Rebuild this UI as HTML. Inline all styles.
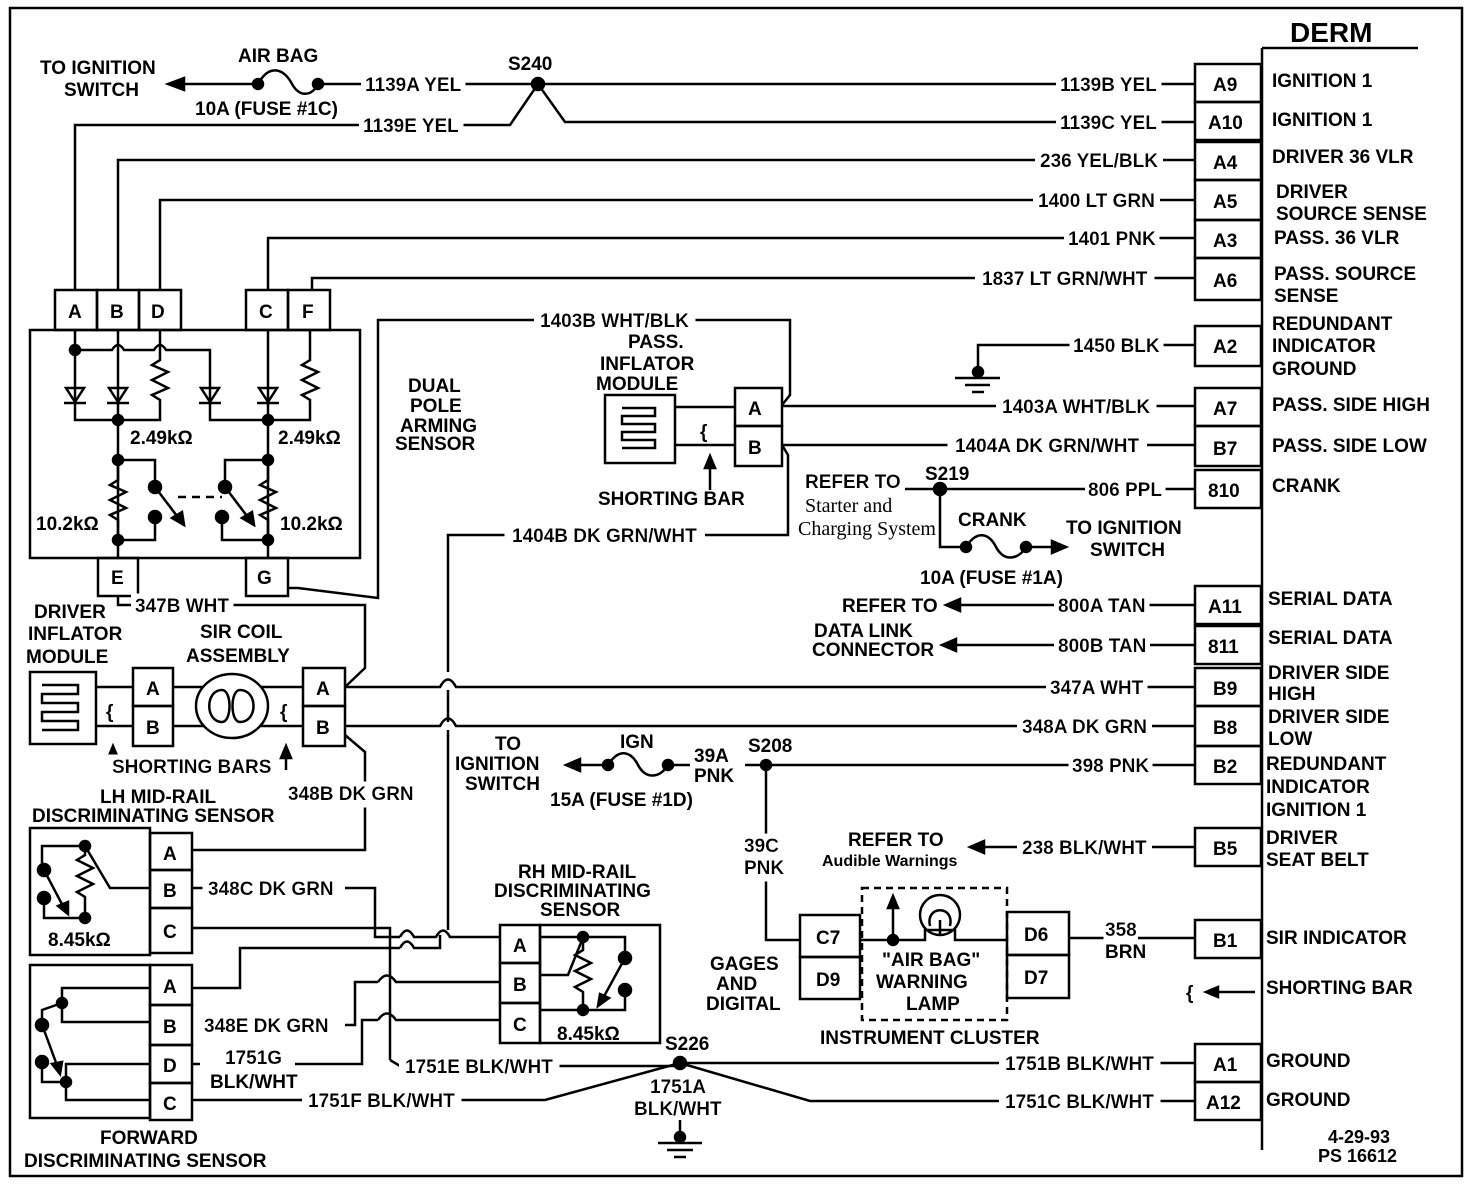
<!DOCTYPE html>
<html><head><meta charset="utf-8"><style>
html,body{margin:0;padding:0;background:#fff}
svg{display:block}
text{font-family:"Liberation Sans",sans-serif;font-weight:bold;font-size:19px;fill:#000}
.h{filter:url(#bg)}
.s{font-family:"Liberation Serif",serif;font-weight:normal;font-size:20px}
.sm{font-size:16px}
line,polyline,path,rect,circle,ellipse,polygon{stroke:#000;stroke-width:2.5;fill:none}
.f{fill:#000}
.w{fill:#fff}
</style></head><body>
<svg width="1472" height="1188" viewBox="0 0 1472 1188" xmlns="http://www.w3.org/2000/svg">
<defs><filter id="bg" x="-0.04" y="-0.1" width="1.08" height="1.2"><feFlood flood-color="#fff"/><feComposite in="SourceGraphic"/></filter></defs>
<rect x="10" y="8" width="1452" height="1168" stroke-width="4"/>

<!-- DERM -->
<text x="1290" y="42" style="font-size:28px">DERM</text>
<line x1="1262" y1="48" x2="1418" y2="48" stroke-width="3"/>
<line x1="1262" y1="48" x2="1262" y2="1150" stroke-width="4"/>
<g stroke-width="3">
<rect x="1195" y="64" width="66" height="38"/><text x="1213" y="91">A9</text>
<rect x="1195" y="102" width="66" height="38"/><text x="1208" y="129">A10</text>
<rect x="1195" y="142" width="66" height="38"/><text x="1213" y="169">A4</text>
<rect x="1195" y="180" width="66" height="40"/><text x="1213" y="208">A5</text>
<rect x="1195" y="220" width="66" height="38"/><text x="1213" y="247">A3</text>
<rect x="1195" y="258" width="66" height="42"/><text x="1213" y="287">A6</text>
<rect x="1195" y="326" width="66" height="40"/><text x="1213" y="353">A2</text>
<rect x="1195" y="388" width="66" height="38"/><text x="1213" y="415">A7</text>
<rect x="1195" y="426" width="66" height="40"/><text x="1213" y="455">B7</text>
<rect x="1195" y="470" width="66" height="38"/><text x="1208" y="497">810</text>
<rect x="1195" y="586" width="66" height="38"/><text x="1208" y="613">A11</text>
<rect x="1195" y="626" width="66" height="38"/><text x="1208" y="653">811</text>
<rect x="1195" y="668" width="66" height="38"/><text x="1213" y="695">B9</text>
<rect x="1195" y="706" width="66" height="40"/><text x="1213" y="734">B8</text>
<rect x="1195" y="746" width="66" height="38"/><text x="1213" y="773">B2</text>
<rect x="1195" y="828" width="66" height="38"/><text x="1213" y="855">B5</text>
<rect x="1195" y="920" width="66" height="38"/><text x="1213" y="947">B1</text>
<rect x="1195" y="1044" width="66" height="38"/><text x="1213" y="1071">A1</text>
<rect x="1195" y="1082" width="66" height="38"/><text x="1206" y="1109">A12</text>
</g>
<g>
<text x="1272" y="87">IGNITION 1</text>
<text x="1272" y="126">IGNITION 1</text>
<text x="1272" y="163">DRIVER 36 VLR</text>
<text x="1276" y="198">DRIVER</text><text x="1276" y="220">SOURCE SENSE</text>
<text x="1274" y="244">PASS. 36 VLR</text>
<text x="1274" y="280">PASS. SOURCE</text><text x="1274" y="302">SENSE</text>
<text x="1272" y="330">REDUNDANT</text><text x="1272" y="352">INDICATOR</text><text x="1272" y="375">GROUND</text>
<text x="1272" y="411">PASS. SIDE HIGH</text>
<text x="1272" y="452">PASS. SIDE LOW</text>
<text x="1272" y="492">CRANK</text>
<text x="1268" y="605">SERIAL DATA</text>
<text x="1268" y="644">SERIAL DATA</text>
<text x="1268" y="679">DRIVER SIDE</text><text x="1268" y="700">HIGH</text>
<text x="1268" y="723">DRIVER SIDE</text><text x="1268" y="745">LOW</text>
<text x="1266" y="770">REDUNDANT</text><text x="1266" y="793">INDICATOR</text><text x="1266" y="816">IGNITION 1</text>
<text x="1266" y="844">DRIVER</text><text x="1266" y="866">SEAT BELT</text>
<text x="1266" y="944">SIR INDICATOR</text>
<text x="1266" y="994">SHORTING BAR</text>
<text x="1266" y="1067">GROUND</text>
<text x="1266" y="1106">GROUND</text>
<text x="1328" y="1143" style="font-size:18px">4-29-93</text>
<text x="1318" y="1162" style="font-size:18px">PS 16612</text>
</g>
<text x="1186" y="999">{</text>
<line x1="1255" y1="992" x2="1208" y2="992"/><polygon class="f" points="1206,992 1218,987 1218,997"/>

<!-- top wires -->
<line x1="180" y1="84" x2="258" y2="84"/>
<line x1="318" y1="84" x2="1195" y2="84"/>
<polygon class="f" points="168,84 184,78 184,90"/>
<path d="M258 84 C270 62 285 70 292 84 C300 98 312 96 318 84" stroke-width="3"/>
<circle class="f" cx="258" cy="84" r="5"/><circle class="f" cx="318" cy="84" r="5"/>
<text x="40" y="74">TO IGNITION</text><text x="64" y="96">SWITCH</text>
<text x="238" y="62">AIR BAG</text>
<text x="195" y="115">10A (FUSE #1C)</text>
<text class="h" x="365" y="91">1139A YEL</text>
<text x="508" y="70">S240</text>
<circle class="f" cx="538" cy="84" r="6"/>
<polyline points="75,290 75,125 510,125 538,84 565,122 1195,122"/>
<text class="h" x="363" y="132">1139E YEL</text>
<text class="h" x="1060" y="91">1139B YEL</text>
<text class="h" x="1060" y="129">1139C YEL</text>
<polyline points="118,290 118,160 1195,160"/><text class="h" x="1040" y="167">236 YEL/BLK</text>
<polyline points="160,290 160,200 1195,200"/><text class="h" x="1038" y="207">1400 LT GRN</text>
<polyline points="268,290 268,238 1195,238"/><text class="h" x="1068" y="245">1401 PNK</text>
<polyline points="312,290 312,278 1195,278"/><text class="h" x="982" y="285">1837 LT GRN/WHT</text>

<!-- left module -->
<rect x="30" y="330" width="330" height="228" stroke-width="4"/>
<g stroke-width="3">
<rect x="55" y="290" width="42" height="40"/><text x="68" y="318">A</text>
<rect x="97" y="290" width="42" height="40"/><text x="110" y="318">B</text>
<rect x="139" y="290" width="42" height="40"/><text x="151" y="318">D</text>
<rect x="246" y="290" width="42" height="40"/><text x="259" y="318">C</text>
<rect x="288" y="290" width="42" height="40"/><text x="302" y="318">F</text>
<rect x="98" y="558" width="40" height="38"/><text x="111" y="584">E</text>
<rect x="246" y="558" width="42" height="38"/><text x="257" y="584">G</text>
</g>
<polyline points="75,330 75,420 118,420"/>
<path d="M75 350 H112 Q118 340 124 350 H154 Q160 340 166 350 H210 V390"/>
<circle class="f" cx="75" cy="350" r="5"/>
<polyline points="118,330 118,540"/>
<polyline points="160,330 160,360 152,365 168,372 152,380 168,388 152,395 160,400 160,420 118,420"/>
<polyline points="210,390 210,420 268,420"/>
<polyline points="268,330 268,540"/>
<polyline points="310,330 310,360 302,365 318,372 302,380 318,388 302,395 310,400 310,420 268,420"/>
<g class="f" stroke-width="2">
<polygon points="66,388 84,388 75,402"/><line x1="64" y1="403" x2="86" y2="403" stroke-width="4"/>
<polygon points="109,388 127,388 118,402"/><line x1="107" y1="403" x2="129" y2="403" stroke-width="4"/>
<polygon points="201,388 219,388 210,402"/><line x1="199" y1="403" x2="221" y2="403" stroke-width="4"/>
<polygon points="259,388 277,388 268,402"/><line x1="257" y1="403" x2="279" y2="403" stroke-width="4"/>
</g>
<circle class="f" cx="118" cy="420" r="5"/><circle class="f" cx="268" cy="420" r="5"/>
<text x="130" y="444">2.49kΩ</text><text x="278" y="444">2.49kΩ</text>
<circle class="f" cx="118" cy="460" r="5"/><circle class="f" cx="268" cy="460" r="5"/>
<polyline points="118,460 118,480 110,485 126,492 110,500 126,508 110,515 118,520 118,540"/>
<polyline points="268,460 268,480 260,485 276,492 260,500 276,508 260,515 268,520 268,540"/>
<polyline points="118,460 155,460 155,482"/>
<polyline points="268,460 225,460 225,482"/>
<circle class="f" cx="155" cy="487" r="6"/><circle class="f" cx="225" cy="487" r="6"/>
<line x1="155" y1="487" x2="180" y2="520"/><polygon class="f" points="184,525 172,518 182,512"/>
<line x1="225" y1="487" x2="250" y2="520"/><polygon class="f" points="254,525 242,518 252,512"/>
<line x1="178" y1="497" x2="222" y2="497" stroke-dasharray="8,6"/>
<circle class="f" cx="155" cy="517" r="6"/><circle class="f" cx="222" cy="517" r="6"/>
<polyline points="155,517 155,540 118,540"/><polyline points="222,517 222,540 268,540"/>
<circle class="f" cx="118" cy="540" r="5"/><circle class="f" cx="268" cy="540" r="5"/>
<text x="36" y="530">10.2kΩ</text><text x="280" y="530">10.2kΩ</text>
<line x1="118" y1="540" x2="118" y2="558"/><line x1="268" y1="540" x2="268" y2="558"/>

<!-- arming sensor wires -->
<polyline points="288,588 298,588 378,598 378,320 790,320 790,395 782,405"/>
<text class="h" x="540" y="327">1403B WHT/BLK</text>
<text x="408" y="392">DUAL</text><text x="410" y="412">POLE</text><text x="400" y="432">ARMING</text><text x="395" y="450">SENSOR</text>
<polyline points="118,596 118,605 365,605 365,668 345,687"/>
<text class="h" x="135" y="612">347B WHT</text>
<polyline points="782,445 788,455 788,535 448,535 448,672"/>
<text class="h" x="512" y="542">1404B DK GRN/WHT</text>

<!-- pass inflator -->
<text x="628" y="348">PASS.</text><text x="600" y="370">INFLATOR</text><text x="596" y="390">MODULE</text>
<rect x="605" y="395" width="70" height="68" stroke-width="4"/>
<path d="M622 408 H655 V416 H622 V424 H655 V432 H622 V440 H655 V448 H622"/>
<line x1="675" y1="407" x2="735" y2="407"/><line x1="675" y1="445" x2="735" y2="445"/>
<text x="700" y="438">{</text>
<line x1="710" y1="490" x2="710" y2="462"/><polygon class="f" points="710,456 705,468 715,468"/>
<text x="598" y="505">SHORTING BAR</text>
<rect x="735" y="388" width="47" height="38" stroke-width="3"/><text x="748" y="415">A</text>
<rect x="735" y="426" width="47" height="40" stroke-width="3"/><text x="748" y="454">B</text>
<line x1="782" y1="406" x2="1195" y2="406"/><text class="h" x="1002" y="413">1403A WHT/BLK</text>
<line x1="782" y1="445" x2="1195" y2="445"/><text class="h" x="955" y="452">1404A DK GRN/WHT</text>
<polyline points="1195,345 978,345 978,372"/><circle class="f" cx="978" cy="372" r="5"/>
<line x1="955" y1="378" x2="1000" y2="378"/><line x1="965" y1="385" x2="990" y2="385"/><line x1="972" y1="392" x2="984" y2="392"/>
<text class="h" x="1073" y="352">1450 BLK</text>
<line x1="838" y1="489" x2="1195" y2="489"/><polygon class="f" points="832,489 846,484 846,494"/>
<circle class="f" cx="940" cy="489" r="6"/>
<text class="h" x="1088" y="496">806 PPL</text>
<text x="925" y="480">S219</text>
<text class="h" x="805" y="488">REFER TO</text>
<text class="s" x="805" y="512">Starter and</text>
<text class="s" x="798" y="535">Charging System</text>
<polyline points="940,489 940,547 966,547"/>
<path d="M966 547 C978 528 990 535 996 547 C1004 562 1018 560 1026 547" stroke-width="3"/>
<circle class="f" cx="966" cy="547" r="5"/><circle class="f" cx="1026" cy="547" r="5"/>
<line x1="1026" y1="547" x2="1058" y2="547"/><polygon class="f" points="1066,547 1052,541 1052,553"/>
<text x="958" y="526">CRANK</text>
<text x="1066" y="534">TO IGNITION</text><text x="1090" y="556">SWITCH</text>
<text x="920" y="584">10A (FUSE #1A)</text>

<!-- serial data -->
<line x1="955" y1="605" x2="1195" y2="605"/><polygon class="f" points="946,605 960,599 960,611"/>
<text class="h" x="1058" y="612">800A TAN</text><text x="842" y="612">REFER TO</text>
<line x1="950" y1="645" x2="1195" y2="645"/><polygon class="f" points="942,645 956,639 956,651"/>
<text class="h" x="1058" y="652">800B TAN</text>
<text x="814" y="637">DATA LINK</text><text x="812" y="656">CONNECTOR</text>

<!-- driver side -->
<text x="34" y="618">DRIVER</text><text x="28" y="640">INFLATOR</text><text x="26" y="663">MODULE</text>
<rect x="30" y="672" width="66" height="72" stroke-width="4"/>
<path d="M42 685 H78 V694 H42 V703 H78 V712 H42 V721 H78 V730 H42"/>
<line x1="96" y1="687" x2="133" y2="687"/><line x1="96" y1="726" x2="133" y2="726"/>
<text x="106" y="718">{</text>
<rect x="133" y="668" width="40" height="38" stroke-width="3"/><text x="146" y="695">A</text>
<rect x="133" y="706" width="40" height="40" stroke-width="3"/><text x="146" y="734">B</text>
<line x1="173" y1="687" x2="303" y2="687"/><line x1="173" y1="726" x2="303" y2="726"/>
<ellipse cx="232" cy="706" rx="36" ry="32" stroke-width="3" class="w"/>
<path d="M222 690 C205 690 205 722 222 722 C232 722 232 690 222 690 M240 690 C258 690 258 722 240 722 C230 722 230 690 240 690" stroke-width="2.5"/>
<text x="280" y="718">{</text>
<text x="200" y="638">SIR COIL</text><text x="186" y="662">ASSEMBLY</text>
<rect x="303" y="668" width="42" height="38" stroke-width="3"/><text x="316" y="695">A</text>
<rect x="303" y="706" width="42" height="40" stroke-width="3"/><text x="316" y="734">B</text>
<line x1="113" y1="770" x2="113" y2="752"/><polygon class="f" points="113,746 108,758 118,758"/>
<line x1="286" y1="770" x2="286" y2="752"/><polygon class="f" points="286,746 281,758 291,758"/>
<text class="h" x="112" y="773">SHORTING BARS</text>
<path d="M345 687 H440 Q448 672 456 687 H1195"/><text class="h" x="1050" y="694">347A WHT</text>
<path d="M345 726 H440 Q448 711 456 726 H1195"/><text class="h" x="1022" y="733">348A DK GRN</text>
<line x1="448" y1="690" x2="448" y2="722"/>
<line x1="448" y1="730" x2="448" y2="930"/>
<polyline points="345,735 365,752 365,850 192,850"/>
<text class="h" x="288" y="800">348B DK GRN</text>

<text x="100" y="803">LH MID-RAIL</text><text x="32" y="822">DISCRIMINATING SENSOR</text>
<line x1="578" y1="765" x2="608" y2="765"/><polygon class="f" points="566,765 580,759 580,771"/>
<path d="M608 765 C620 746 632 753 638 765 C646 780 660 778 668 765" stroke-width="3"/>
<circle class="f" cx="608" cy="765" r="5"/><circle class="f" cx="668" cy="765" r="5"/>
<line x1="668" y1="765" x2="690" y2="765"/>
<text x="495" y="750">TO</text><text x="455" y="770">IGNITION</text><text x="465" y="790">SWITCH</text>
<text x="620" y="748">IGN</text>
<text x="550" y="806">15A (FUSE #1D)</text>
<text x="694" y="762">39A</text><text x="694" y="782">PNK</text>
<line x1="745" y1="765" x2="1195" y2="765"/><text class="h" x="1072" y="772">398 PNK</text>
<circle class="f" cx="766" cy="765" r="5"/><text x="748" y="752">S208</text>
<polyline points="766,765 766,940 800,940"/>
<text class="h" x="744" y="852">39C</text><text class="h" x="744" y="874">PNK</text>
<line x1="980" y1="847" x2="1195" y2="847"/><polygon class="f" points="970,847 984,841 984,853"/>
<text class="h" x="1022" y="854">238 BLK/WHT</text>
<text x="848" y="846">REFER TO</text><text x="822" y="866" class="sm">Audible Warnings</text>
<rect x="800" y="915" width="60" height="42" stroke-width="3"/><text x="816" y="944">C7</text>
<rect x="800" y="957" width="60" height="42" stroke-width="3"/><text x="816" y="986">D9</text>
<rect x="862" y="888" width="145" height="132" stroke-dasharray="7,5"/>
<line x1="860" y1="940" x2="918" y2="940"/><circle class="f" cx="893" cy="940" r="5"/>
<line x1="893" y1="940" x2="893" y2="904"/><polygon class="f" points="893,896 888,908 898,908"/>
<circle cx="940" cy="915" r="20" stroke-width="3"/>
<path d="M930 926 C925 905 955 905 950 926 M940 935 V920" stroke-width="2"/>
<polyline points="918,940 925,940 925,930 955,930 955,940 1007,940"/>
<text x="882" y="966">"AIR BAG"</text><text x="876" y="988">WARNING</text><text x="906" y="1010">LAMP</text>
<rect x="1007" y="912" width="62" height="43" stroke-width="3"/><text x="1024" y="941">D6</text>
<rect x="1007" y="955" width="62" height="43" stroke-width="3"/><text x="1024" y="984">D7</text>
<line x1="1069" y1="938" x2="1195" y2="938"/>
<text class="h" x="1105" y="936">358</text><text x="1105" y="958">BRN</text>
<text x="710" y="970">GAGES</text><text x="716" y="990">AND</text><text x="706" y="1010">DIGITAL</text>
<text x="820" y="1044">INSTRUMENT  CLUSTER</text>

<!-- LH mid rail -->
<rect x="30" y="828" width="120" height="127" stroke-width="4"/>
<rect x="150" y="833" width="42" height="37" stroke-width="3"/><text x="163" y="860">A</text>
<rect x="150" y="870" width="42" height="38" stroke-width="3"/><text x="163" y="897">B</text>
<rect x="150" y="908" width="42" height="45" stroke-width="3"/><text x="163" y="938">C</text>
<polyline points="150,888 110,888 85,846 42,846 42,870"/>
<circle class="f" cx="85" cy="846" r="5"/>
<polyline points="85,846 85,855 77,860 93,868 77,876 93,884 77,892 85,897 85,918"/>
<circle class="f" cx="44" cy="870" r="6"/><circle class="f" cx="44" cy="898" r="6"/>
<line x1="44" y1="870" x2="64" y2="908"/><polygon class="f" points="68,914 58,906 68,902"/>
<polyline points="44,898 44,918 85,918"/><circle class="f" cx="85" cy="918" r="5"/>
<text x="48" y="946">8.45kΩ</text>
<line x1="192" y1="888" x2="205" y2="888"/><text class="h" x="208" y="895">348C DK GRN</text>
<polyline points="345,888 375,888 375,937 400,937"/>
<path d="M400 937 Q407 924 414 937 H436 Q443 924 450 937 H500"/>
<polyline points="192,928 390,928 390,1060"/>
<!-- forward sensor -->
<rect x="30" y="965" width="120" height="153" stroke-width="4"/>
<rect x="150" y="965" width="42" height="40" stroke-width="3"/><text x="163" y="993">A</text>
<rect x="150" y="1005" width="42" height="40" stroke-width="3"/><text x="163" y="1033">B</text>
<rect x="150" y="1045" width="42" height="38" stroke-width="3"/><text x="163" y="1072">D</text>
<rect x="150" y="1083" width="42" height="37" stroke-width="3"/><text x="163" y="1110">C</text>
<polyline points="150,988 62,988 62,1022 150,1022"/>
<circle class="f" cx="62" cy="1003" r="5"/>
<polyline points="62,1003 42,1010 42,1025"/>
<circle class="f" cx="42" cy="1025" r="6"/>
<line x1="44" y1="1030" x2="58" y2="1068"/><polygon class="f" points="60,1074 52,1064 62,1062"/>
<circle class="f" cx="42" cy="1062" r="6"/>
<polyline points="42,1062 42,1082 66,1082"/><circle class="f" cx="66" cy="1082" r="5"/>
<polyline points="66,1082 66,1064 150,1064"/>
<polyline points="66,1082 66,1100 150,1100"/>
<text x="100" y="1144">FORWARD</text><text x="24" y="1167">DISCRIMINATING SENSOR</text>
<polyline points="192,988 240,988 240,948 400,948"/>
<path d="M400 948 Q407 935 414 948 H440 V935"/>
<text class="h" x="204" y="1032">348E DK GRN</text>
<polyline points="345,1025 355,1025 355,982 378,982"/>
<path d="M378 982 Q387 969 396 982 H500"/>
<text class="h" x="225" y="1064">1751G</text><text x="210" y="1088">BLK/WHT</text>
<polyline points="192,1064 200,1064"/>
<polyline points="295,1064 362,1064 362,1020 378,1020"/>
<path d="M378 1020 Q387 1007 396 1020 H500"/>
<polyline points="390,1060 400,1066 680,1066"/>
<text class="h" x="405" y="1073">1751E BLK/WHT</text>
<polyline points="192,1100 545,1100 680,1063"/>
<text class="h" x="308" y="1107">1751F BLK/WHT</text>
<!-- RH mid rail -->
<text x="518" y="878">RH MID-RAIL</text><text x="494" y="897">DISCRIMINATING</text><text x="540" y="916">SENSOR</text>
<rect x="500" y="925" width="40" height="38" stroke-width="3"/><text x="513" y="952">A</text>
<rect x="500" y="963" width="40" height="40" stroke-width="3"/><text x="513" y="991">B</text>
<rect x="500" y="1003" width="40" height="40" stroke-width="3"/><text x="513" y="1031">C</text>
<rect x="540" y="925" width="120" height="118" stroke-width="4"/>
<polyline points="540,937 625,937 625,955"/>
<polyline points="540,975 568,975 582,940"/><circle class="f" cx="583" cy="937" r="5"/>
<polyline points="583,937 583,950 575,955 591,963 575,971 591,979 575,987 583,992 583,1010"/>
<circle class="f" cx="625" cy="958" r="6"/>
<line x1="625" y1="958" x2="602" y2="1000"/><polygon class="f" points="598,1006 600,994 609,998"/>
<circle class="f" cx="625" cy="990" r="6"/>
<polyline points="625,990 625,1010 540,1010"/><circle class="f" cx="583" cy="1010" r="5"/>
<text x="557" y="1040">8.45kΩ</text>
<!-- S226 -->
<circle class="f" cx="680" cy="1063" r="6"/><text x="665" y="1050">S226</text>
<line x1="680" y1="1063" x2="1195" y2="1063"/><text class="h" x="1005" y="1070">1751B BLK/WHT</text>
<polyline points="680,1063 810,1101 1195,1101"/><text class="h" x="1005" y="1108">1751C BLK/WHT</text>
<text class="h" x="650" y="1093">1751A</text><text class="h" x="634" y="1115">BLK/WHT</text>
<line x1="680" y1="1120" x2="680" y2="1140"/><circle class="f" cx="680" cy="1137" r="5"/>
<line x1="658" y1="1143" x2="702" y2="1143"/><line x1="667" y1="1150" x2="693" y2="1150"/><line x1="674" y1="1157" x2="686" y2="1157"/>
</svg>
</body></html>
